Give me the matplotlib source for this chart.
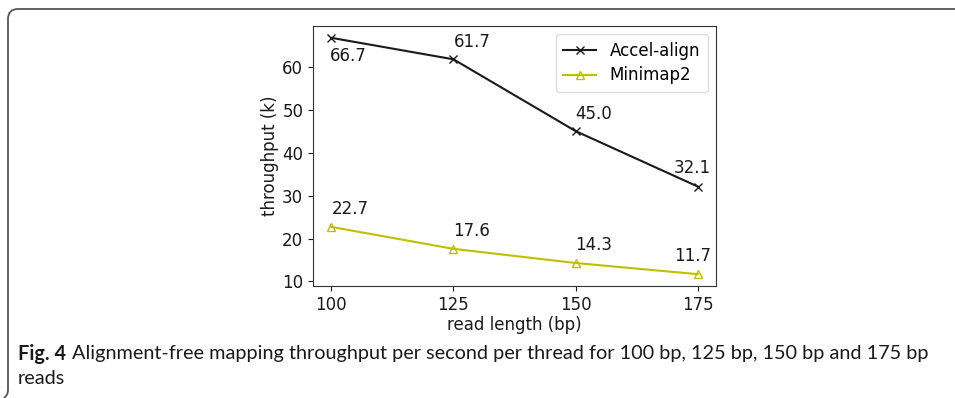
import matplotlib
matplotlib.use("Agg")
import matplotlib.pyplot as plt
from matplotlib.path import Path
from matplotlib.patches import PathPatch

plt.rcParams["font.family"] = ["DejaVu Sans"]

read_lengths = [100, 125, 150, 175]
accel_align = [66.7, 61.7, 45.0, 32.1]
minimap2 = [22.7, 17.6, 14.3, 11.7]
series_names = ["Accel-align", "Minimap2"]
x_label = "read length (bp)"
y_label = "throughput (k)"
caption_bold = "Fig. 4"
caption_text = "Alignment-free mapping throughput per second per thread for 100 bp, 125 bp, 150 bp and 175 bp"
caption_line2 = "reads"

W, H = 955, 398
fig = plt.figure(figsize=(W / 100, H / 100), dpi=100)
ax = fig.add_axes([313 / W, 1 - 286 / H, (716 - 313) / W, (286 - 26) / H])

dark = "#1a1a1a"
ax.plot(read_lengths, accel_align, color=dark, marker="x", markersize=6,
        linewidth=1.5, label=series_names[0])
ax.plot(read_lengths, minimap2, color=(0.75, 0.75, 0.0), marker="^", markersize=6,
        markerfacecolor="none", linewidth=1.5, label=series_names[1])

fs = 12
for i, (x, y) in enumerate(zip(read_lengths, accel_align)):
    if i == 0:
        ax.annotate(f"{y:.1f}", (x, y), xytext=(-1, -13), textcoords="offset points",
                    ha="left", va="center", fontsize=fs, color=dark)
    elif i == len(read_lengths) - 1:
        ax.annotate(f"{y:.1f}", (x, y), xytext=(-4, 13), textcoords="offset points",
                    ha="center", va="center", fontsize=fs, color=dark)
    else:
        ax.annotate(f"{y:.1f}", (x, y), xytext=(0, 12.5), textcoords="offset points",
                    ha="left", va="center", fontsize=fs, color=dark)
for i, (x, y) in enumerate(zip(read_lengths, minimap2)):
    if i == len(read_lengths) - 1:
        ax.annotate(f"{y:.1f}", (x, y), xytext=(-4, 13), textcoords="offset points",
                    ha="center", va="center", fontsize=fs, color=dark)
    else:
        ax.annotate(f"{y:.1f}", (x, y), xytext=(0, 13), textcoords="offset points",
                    ha="left", va="center", fontsize=fs, color=dark)

ax.set_xticks(read_lengths)
ax.set_yticks([10, 20, 30, 40, 50, 60])
ax.tick_params(labelsize=fs, colors=dark, labelcolor=dark)
ax.set_xlabel(x_label, fontsize=fs, color=dark, labelpad=2)
ax.set_ylabel(y_label, fontsize=fs, color=dark, labelpad=2)
for s in ax.spines.values():
    s.set_color("#333333")
ax.legend(loc="upper right", fontsize=fs, framealpha=1, edgecolor="#dddddd",
          handlelength=2.0, borderpad=0.45, labelspacing=0.4)

# frame (top and left edges of rounded box)
r = 10
verts = [(W, H - 9), (8 + r, H - 9), (8, H - 9), (8, H - 9 - r), (8, 8), (8, 3), (4, 0)]
codes = [Path.MOVETO, Path.LINETO, Path.CURVE3, Path.CURVE3, Path.LINETO, Path.CURVE3, Path.CURVE3]
fig.add_artist(PathPatch(Path(verts, codes), transform=None, fill=False,
                         edgecolor="#555555", linewidth=1.3))

cap_font = ["Lato", "DejaVu Sans"]
cfs = 12
fig.canvas.draw()
rend = fig.canvas.get_renderer()
t1 = fig.text(18 / W, 1 - 354 / H, caption_bold, fontsize=cfs, fontweight="bold",
              family=cap_font, va="center", ha="left", color="#1a1a1a")
t2 = fig.text(0, 1 - 354 / H, caption_text, fontsize=cfs,
              family=cap_font, va="center", ha="left", color="#1a1a1a")
t3 = fig.text(18 / W, 1 - 378 / H, caption_line2, fontsize=cfs,
              family=cap_font, va="center", ha="left", color="#1a1a1a")
# fit caption width to reference span (18..926 px)
for _ in range(3):
    b1 = t1.get_window_extent(rend)
    t2.set_x((b1.x1 + 6) / W)
    b2 = t2.get_window_extent(rend)
    scale = (926 - 18) / (b2.x1 - b1.x0)
    cfs *= scale
    for t in (t1, t2, t3):
        t.set_fontsize(cfs)
b1 = t1.get_window_extent(rend)
t2.set_x((b1.x1 + 6) / W)

fig.savefig("out.png", dpi=100)
